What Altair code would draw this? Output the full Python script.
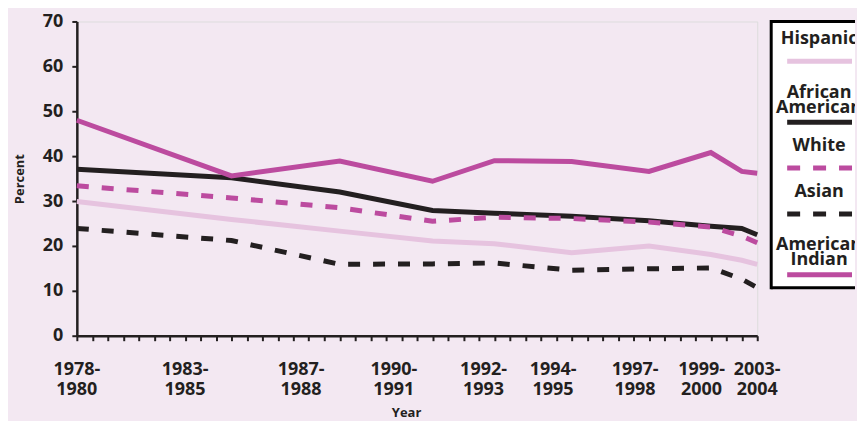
import altair as alt
import pandas as pd

# ---------------- data ----------------
period_index = [0, 10, 17, 23, 27, 32, 37, 41, 43, 44]
hispanic = [29.9, 25.9, 23.3, 21.1, 20.5, 18.5, 20.0, 18.1, 16.8, 15.9]
african_american = [37.1, 35.2, 32.0, 27.9, 27.3, 26.6, 25.6, 24.4, 23.9, 22.5]
white = [33.4, 30.7, 28.5, 25.5, 26.4, 26.1, 25.3, 24.2, 22.2, 20.7]
asian = [23.9, 21.2, 15.9, 16.0, 16.2, 14.6, 14.9, 15.1, 12.6, 10.7]
american_indian = [48.0, 35.6, 38.9, 34.4, 39.0, 38.8, 36.6, 40.8, 36.6, 36.2]

series_names = ["Hispanic", "African American", "White", "Asian", "American Indian"]
series_values = [hispanic, african_american, white, asian, american_indian]
legend_text = [["Hispanic"], ["African", "American"], ["White"], ["Asian"], ["American", "Indian"]]

tick_labels = ["1978-\n1980", "1983-\n1985", "1987-\n1988", "1990-\n1991", "1992-\n1993",
               "1994-\n1995", "1997-\n1998", "1999-\n2000", "2003-\n2004"]
tick_label_pos = [0, 7, 14.5, 20.5, 26.3, 30.8, 36.1, 40.4, 44]
minor_ticks = list(range(0, 45))
y_ticks = [0, 10, 20, 30, 40, 50, 60, 70]

# ---------------- styles ----------------
INK = "#231f20"
MAGENTA = "#bc4b9f"
PINK = "#e6c3df"
BG = "#f3e8f2"
FONT = "Open Sans"
colors = {"Hispanic": PINK, "African American": INK, "White": MAGENTA,
          "Asian": INK, "American Indian": MAGENTA}
dashes = {"Hispanic": [1, 0], "African American": [1, 0], "White": [12, 13],
          "Asian": [12, 13], "American Indian": [1, 0]}
draw_order = ["Hispanic", "African American", "Asian", "White", "American Indian"]

W, H = 682, 315

rows = []
for name, vals in zip(series_names, series_values):
    for x, v in zip(period_index, vals):
        rows.append({"series": name, "pos": x, "pct": v})
df = pd.DataFrame(rows)

x_scale = alt.Scale(domain=[0, 44], nice=False, zero=False)
y_scale = alt.Scale(domain=[0, 70], nice=False)

x_axis = alt.Axis(values=minor_ticks, labels=False, grid=False, tickSize=5, tickWidth=2,
                  tickColor=INK, domainColor=INK, domainWidth=2.5, title="Year",
                  titleFont=FONT, titleFontSize=13, titleFontWeight="bold", titleColor=INK,
                  titlePadding=65, titleX=330)
y_axis = alt.Axis(values=y_ticks, grid=False, tickSize=5, tickWidth=2, tickColor=INK,
                  domainColor=INK, domainWidth=2.5, labelFont=FONT, labelFontSize=18,
                  labelFontWeight="bold", labelColor=INK, labelPadding=9, title="Percent",
                  titleFont=FONT, titleFontSize=13, titleFontWeight="bold", titleColor=INK,
                  titlePadding=16)

layers = []
for name in draw_order:
    mk = dict(strokeWidth=5, color=colors[name], strokeCap="butt", strokeJoin="miter")
    if dashes[name] != [1, 0]:
        mk["strokeDash"] = dashes[name]
    layers.append(
        alt.Chart(df).transform_filter(alt.datum.series == name).mark_line(**mk).encode(
            x=alt.X("pos:Q", scale=x_scale, axis=x_axis),
            y=alt.Y("pct:Q", scale=y_scale, axis=y_axis),
        )
    )

lab_df = pd.DataFrame({"pos": tick_label_pos, "label": tick_labels})
labels = alt.Chart(lab_df).mark_text(
    font=FONT, fontSize=18, fontWeight="bold", color=INK, baseline="top", align="center",
    lineBreak="\n", lineHeight=20
).encode(
    x=alt.X("pos:Q", scale=x_scale, axis=x_axis),
    y=alt.value(H + 25),
    text="label:N",
)

main = alt.layer(*layers, labels).properties(width=W, height=H)

# ---------------- legend panel ----------------
LW, LH = 84, 267
leg_rows = []
y_first = 18
for name, lines in zip(series_names, legend_text):
    n = len(lines)
    label_c = y_first + (n - 1) * 15 / 2
    sym = y_first + (n - 1) * 15 + 22
    leg_rows.append({"series": name, "text": "\n".join(lines), "ly": label_c, "sy": sym})
    y_first = sym + 24
leg_df = pd.DataFrame(leg_rows)
leg_scale = alt.Scale(domain=[LH, 0], nice=False, zero=False)

leg_text = alt.Chart(leg_df).mark_text(
    font=FONT, fontSize=18, fontWeight="bold", color=INK, align="center", baseline="middle",
    lineBreak="\n", lineHeight=15, clip=True
).encode(
    x=alt.value(48),
    y=alt.Y("ly:Q", scale=leg_scale, axis=None),
    text="text:N",
)
leg_sym = alt.Chart(leg_df).mark_rule(strokeWidth=5, strokeCap="butt").encode(
    x=alt.value(16), x2=alt.value(81),
    y=alt.Y("sy:Q", scale=leg_scale, axis=None),
    color=alt.Color("series:N", scale=alt.Scale(domain=series_names,
                                                range=[colors[s] for s in series_names]), legend=None),
    strokeDash=alt.StrokeDash("series:N", scale=alt.Scale(domain=series_names,
                                                         range=[[13, 13] if dashes[s] != [1, 0] else [1, 0] for s in series_names]),
                              legend=None),
)
one = pd.DataFrame({"k": [0]})
box_left = alt.Chart(one).mark_rule(strokeWidth=3, color="black").encode(
    x=alt.value(0), y=alt.value(-1.5), y2=alt.value(LH + 1.5))
box_top = alt.Chart(one).mark_rule(strokeWidth=3, color="black").encode(
    x=alt.value(0), x2=alt.value(LW), y=alt.value(0))
box_bottom = alt.Chart(one).mark_rule(strokeWidth=3, color="black").encode(
    x=alt.value(0), x2=alt.value(LW), y=alt.value(LH))

legend = alt.layer(leg_sym, leg_text, box_left, box_top, box_bottom).properties(
    width=LW, height=LH, view=alt.ViewBackground(fill="white", strokeWidth=0)
)

chart = alt.hconcat(main, legend, spacing=14, bounds="flush").properties(
    background=BG, padding={"left": 4, "top": 3, "right": 0, "bottom": 0}
).configure_view(strokeWidth=0).configure(font=FONT)

chart.save("out.html", embed_options={"renderer": "svg", "actions": False})
